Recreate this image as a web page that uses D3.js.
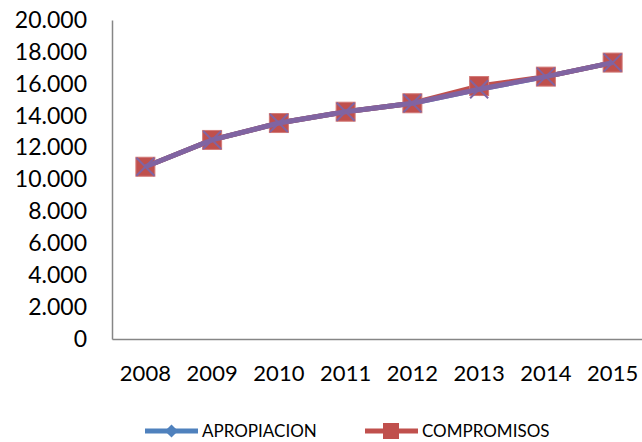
<!DOCTYPE html>
<html>
<head>
<meta charset="utf-8">
<script src="https://cdn.jsdelivr.net/npm/d3@7"></script>
<style>
  body { margin: 0; background: #fff; }
  svg { display: block; font-family: Lato, "Open Sans", sans-serif; }
</style>
</head>
<body>
<svg width="642" height="442"></svg>
<script>
// Years on the x axis
const years = ["2008", "2009", "2010", "2011", "2012", "2013", "2014", "2015"];
// Series values
const apropiacion = [10800, 12480, 13540, 14250, 14780, 15660, 16450, 17330];
const compromisos = [10800, 12480, 13540, 14250, 14780, 15860, 16450, 17330];
const thirdSeries = [10800, 12480, 13540, 14250, 14780, 15660, 16450, 17330];
// Y tick values
const yTicks = [0, 2000, 4000, 6000, 8000, 10000, 12000, 14000, 16000, 18000, 20000];

const svg = d3.select("svg");
const plotLeft = 112, plotRight = 646, plotTop = 20, plotBottom = 339;

const x = d3.scaleBand().domain(years).range([plotLeft, plotRight]);
const y = d3.scaleLinear().domain([0, 20000]).range([plotBottom, plotTop]);
const cx = d => x(d) + x.bandwidth() / 2;

// Y axis labels (dots as thousand separators)
const fmt = v => v === 0 ? "0" : d3.format(",")(v).replace(/,/g, ".");
const yAxis = svg.append("g")
    .attr("transform", "translate(" + plotLeft + ",0)")
    .call(d3.axisLeft(y).tickValues(yTicks).tickSize(0).tickPadding(25).tickFormat(fmt));
yAxis.select(".domain").attr("stroke", "#868686").attr("stroke-width", 1.5);
yAxis.selectAll("text").attr("font-size", 23).attr("fill", "#000").attr("font-family", "Lato, sans-serif");

// X axis
const xAxis = svg.append("g")
    .attr("transform", "translate(0," + plotBottom + ")")
    .call(d3.axisBottom(x).tickSize(0).tickPadding(26));
xAxis.select(".domain").attr("stroke", "#868686").attr("stroke-width", 1.5);
xAxis.selectAll("text").attr("font-size", 22).attr("fill", "#000").attr("font-family", "Lato, sans-serif");

const line = d3.line().x((d, i) => cx(years[i])).y(d => y(d));

// Apropiacion (blue, diamonds)
svg.append("path").datum(apropiacion)
    .attr("d", line).attr("fill", "none").attr("stroke", "#4F81BD").attr("stroke-width", 5);
svg.selectAll(".dia").data(apropiacion).enter().append("path")
    .attr("d", d3.symbol(d3.symbolDiamond2, 130))
    .attr("transform", (d, i) => "translate(" + cx(years[i]) + "," + y(d) + ")")
    .attr("fill", "#4F81BD");

// Compromisos (red, squares)
svg.append("path").datum(compromisos)
    .attr("d", line).attr("fill", "none").attr("stroke", "#C0504D").attr("stroke-width", 5);
svg.selectAll(".sq").data(compromisos).enter().append("rect")
    .attr("x", (d, i) => cx(years[i]) - 9.5)
    .attr("y", d => y(d) - 9.5)
    .attr("width", 19).attr("height", 19)
    .attr("fill", "#C0504D").attr("stroke", "#D27A78").attr("stroke-width", 1);

// Third series (purple, crosses)
svg.append("path").datum(thirdSeries)
    .attr("d", line).attr("fill", "none").attr("stroke", "#8064A2").attr("stroke-width", 5);
svg.selectAll(".xm").data(thirdSeries).enter().append("path")
    .attr("d", "M-9,-9L9,9M-9,9L9,-9")
    .attr("transform", (d, i) => "translate(" + cx(years[i]) + "," + y(d) + ")")
    .attr("stroke", "#8064A2").attr("stroke-width", 2);

// Legend
const legend = [
    { name: "APROPIACION", color: "#4F81BD", x: 145, marker: "diamond" },
    { name: "COMPROMISOS", color: "#C0504D", x: 365, marker: "square" }
];
const ly = 431;
legend.forEach(item => {
    svg.append("line")
        .attr("x1", item.x).attr("x2", item.x + 53)
        .attr("y1", ly).attr("y2", ly)
        .attr("stroke", item.color).attr("stroke-width", 5);
    if (item.marker === "diamond") {
        svg.append("path")
            .attr("d", d3.symbol(d3.symbolDiamond2, 110))
            .attr("transform", "translate(" + (item.x + 26.5) + "," + ly + ")")
            .attr("fill", item.color);
    } else {
        svg.append("rect")
            .attr("x", item.x + 18).attr("y", ly - 8)
            .attr("width", 16).attr("height", 16)
            .attr("fill", item.color);
    }
    svg.append("text")
        .attr("x", item.x + 57).attr("y", ly + 6)
        .attr("font-size", 17).attr("fill", "#000")
        .text(item.name);
});
</script>
</body>
</html>
